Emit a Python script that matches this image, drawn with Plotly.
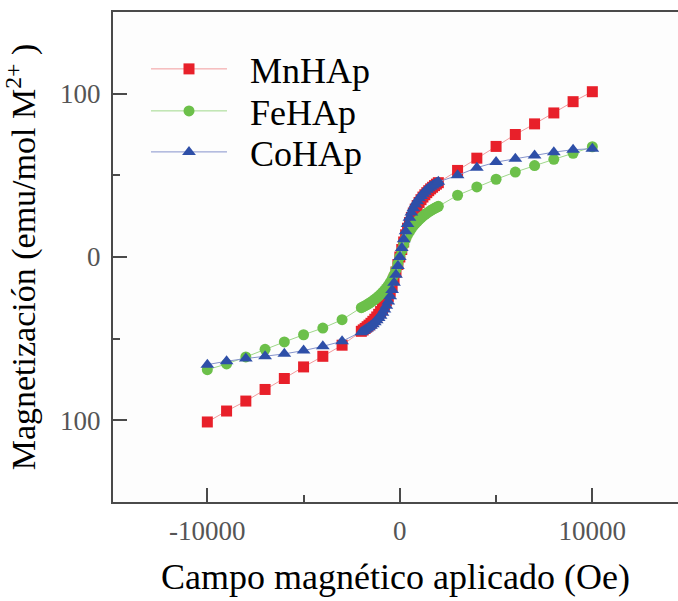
import plotly.graph_objects as go

# Applied field (Oe)
field_oe = [-10000, -9000, -8000, -7000, -6000, -5000, -4000, -3000,
            -2000, -1900, -1800, -1700, -1600, -1500, -1400, -1300, -1200, -1100,
            -1000, -900, -800, -700, -600, -500, -400, -300, -200, -100,
            0, 100, 200, 300, 400, 500, 600, 700, 800, 900, 1000,
            1100, 1200, 1300, 1400, 1500, 1600, 1700, 1800, 1900, 2000,
            3000, 4000, 5000, 6000, 7000, 8000, 9000, 10000]

mn_hap = [-101.0, -94.3, -88.2, -81.1, -74.4, -67.3, -60.8, -54.0,
          -45.5, -44.6, -43.7, -42.7, -41.7, -40.6, -39.4, -38.1, -36.7, -35.1,
          -33.4, -31.5, -29.3, -26.9, -24.2, -21.1, -17.6, -13.6, -9.2, -4.6,
          0.0, 4.6, 9.2, 13.6, 17.6, 21.1, 24.2, 26.9, 29.3, 31.5, 33.4,
          35.1, 36.7, 38.1, 39.4, 40.6, 41.7, 42.7, 43.7, 44.6, 45.5,
          53.0, 60.5, 67.7, 75.0, 81.5, 88.2, 95.1, 101.2]

fe_hap = [-69.0, -65.5, -61.2, -56.5, -52.0, -47.6, -43.5, -38.4,
          -31.0, -30.4, -29.8, -29.1, -28.4, -27.6, -26.8, -25.9, -25.0, -24.0,
          -22.9, -21.7, -20.4, -19.0, -17.4, -15.6, -13.5, -10.9, -7.7, -4.0,
          0.0, 4.0, 7.7, 10.9, 13.5, 15.6, 17.4, 19.0, 20.4, 21.7, 22.9,
          24.0, 25.0, 25.9, 26.8, 27.6, 28.4, 29.1, 29.8, 30.4, 31.0,
          37.8, 42.9, 47.6, 52.0, 56.0, 59.8, 63.5, 67.5]

co_hap = [-65.9, -63.8, -62.2, -60.8, -59.3, -57.3, -54.7, -51.6,
          -46.0, -45.3, -44.6, -43.8, -43.0, -42.1, -41.1, -40.0, -38.8, -37.4,
          -35.9, -34.2, -32.2, -29.9, -27.2, -24.0, -20.2, -15.8, -10.8, -5.5,
          0.0, 5.5, 10.8, 15.8, 20.2, 24.0, 27.2, 29.9, 32.2, 34.2, 35.9,
          37.4, 38.8, 40.0, 41.1, 42.1, 43.0, 43.8, 44.6, 45.3, 46.0,
          50.0, 54.7, 58.1, 60.2, 62.2, 64.2, 65.7, 66.3]

x_tickvals = [-10000, 0, 10000]
x_ticktext = ["-10000", "0", "10000"]
y_tickvals = [-100, 0, 100]
y_ticktext = ["100", "0", "100"]

series = [
    ("MnHAp", mn_hap, "#e8202a", "#f29a9c", "square", 11, "legend", 0.8837),
    ("FeHAp", fe_hap, "#6cc04a", "#9fd88a", "circle", 11, "legend2", 0.7980),
    ("CoHAp", co_hap, "#2e4fa8", "#8593cc", "triangle-up", 12, "legend3", 0.7143),
]

fig = go.Figure()
legends = {}
for name, vals, mcol, lcol, sym, size, lg, ly in series:
    fig.add_trace(go.Scatter(
        x=field_oe, y=vals, name="\u00a0\u00a0" + name, mode="lines+markers",
        line=dict(color=lcol, width=1),
        marker=dict(symbol=sym, size=size, color=mcol, line=dict(width=0)),
        legend=lg,
    ))
    legends[lg] = dict(x=0.0584, y=ly, xanchor="left", yanchor="middle",
                       bgcolor="rgba(255,255,255,0)",
                       font=dict(size=36, color="black", family="Liberation Serif"),
                       itemwidth=76)

axis_col = "#4a4a4a"
fig.update_layout(
    width=678, height=601,
    margin=dict(l=113, r=0, t=12, b=99),
    paper_bgcolor="white", plot_bgcolor="#fdfdfd",
    font=dict(family="Liberation Serif", color="black"),
    showlegend=True,
    xaxis=dict(
        range=[-14900, 14450], showgrid=False, zeroline=False,
        showline=True, linecolor=axis_col, linewidth=2, mirror=True,
        ticks="inside", ticklen=14, tickwidth=2, tickcolor=axis_col,
        tickmode="array", tickvals=x_tickvals, ticktext=x_ticktext,
        tickfont=dict(size=27, color="#555555"), ticklabelstandoff=4,
        minor=dict(tickvals=[-5000, 5000], ticks="inside", ticklen=7, tickwidth=2, tickcolor=axis_col),
        title=dict(text="Campo magnético aplicado (Oe)", font=dict(size=36, color="black"), standoff=18),
        automargin=False,
    ),
    yaxis=dict(
        range=[-150, 150], showgrid=False, zeroline=False,
        showline=True, linecolor=axis_col, linewidth=2, mirror=False,
        ticks="inside", ticklen=14, tickwidth=2, tickcolor=axis_col,
        tickmode="array", tickvals=y_tickvals, ticktext=y_ticktext,
        tickfont=dict(size=27, color="#555555"), ticklabelstandoff=5,
        minor=dict(tickvals=[-50, 50], ticks="inside", ticklen=7, tickwidth=2, tickcolor=axis_col),
        title=dict(text="Magnetización (emu/mol M<sup>2+</sup> )", font=dict(size=34, color="black"), standoff=14),
        automargin=False,
    ),
    **legends,
)

fig.write_html("out.html")
